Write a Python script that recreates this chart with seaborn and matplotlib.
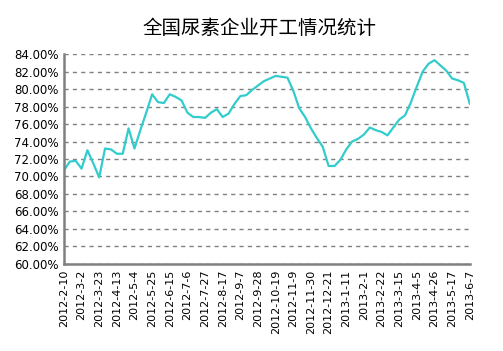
import matplotlib
matplotlib.use("Agg")
import matplotlib.pyplot as plt
import numpy as np
import pandas as pd
import seaborn as sns
from matplotlib.ticker import FuncFormatter

# weekly dates, 2012-2-10 .. 2013-6-7
dates = pd.date_range("2012-02-10", "2013-06-07", freq="7D")

# operating rate (%)
rate = [70.7, 71.7, 71.8, 70.9, 73.0, 71.5, 69.9, 73.2, 73.1, 72.6,
        72.6, 75.5, 73.2, 75.3, 77.3, 79.4, 78.5, 78.4, 79.4, 79.1,
        78.7, 77.3, 76.8, 76.8, 76.7, 77.3, 77.7, 76.8, 77.2, 78.3,
        79.2, 79.3, 79.9, 80.4, 80.9, 81.2, 81.5, 81.4, 81.3, 79.8,
        77.8, 76.8, 75.5, 74.4, 73.4, 71.2, 71.2, 71.9, 73.1, 74.0,
        74.3, 74.8, 75.6, 75.3, 75.1, 74.7, 75.6, 76.5, 77.0, 78.5,
        80.3, 82.0, 82.9, 83.3, 82.7, 82.1, 81.2, 81.0, 80.7, 78.3]

title = "全国尿素企业开工情况统计"
y_ticks = list(range(60, 86, 2))

df = pd.DataFrame({"week": np.arange(len(dates)), "rate": rate})
labels = [f"{d.year}-{d.month}-{d.day}" for d in dates]

sns.set_style("white")
plt.rcParams['font.family'] = ['Noto Sans CJK SC', 'DejaVu Sans']

fig = plt.figure(figsize=(5.03, 3.51), dpi=100)
ax = fig.add_axes([0.127, 0.248, 0.807, 0.598])

sns.lineplot(data=df, x="week", y="rate", color="#33CCCC", linewidth=1.6, ax=ax)

ax.set_xlim(0, len(dates) - 1)
ax.set_ylim(60, 84)
ax.set_yticks(y_ticks)
ax.yaxis.set_major_formatter(FuncFormatter(lambda v, p: f"{v:.2f}%"))
ax.set_xticks(df["week"][::3])
ax.set_xticklabels(labels[::3], rotation=90, fontsize=8, family="DejaVu Sans")
for t in ax.get_yticklabels():
    t.set_family("DejaVu Sans")
    t.set_fontsize(8.5)

ax.grid(axis="y", color="#808080", linestyle=(0, (3, 3)), linewidth=1)
ax.set_axisbelow(True)
ax.set_xlabel("")
ax.set_ylabel("")
for s in ["top", "right"]:
    ax.spines[s].set_visible(False)
for s in ["left", "bottom"]:
    ax.spines[s].set_color("#808080")
    ax.spines[s].set_linewidth(1.8)
ax.tick_params(axis="both", direction="in", length=4, width=1.2, color="#808080",
               labelcolor="black", pad=4)

fig.text(0.515, 0.918, title, ha="center", va="center", fontsize=14, color="black")

plt.savefig("out.png", dpi=100)
